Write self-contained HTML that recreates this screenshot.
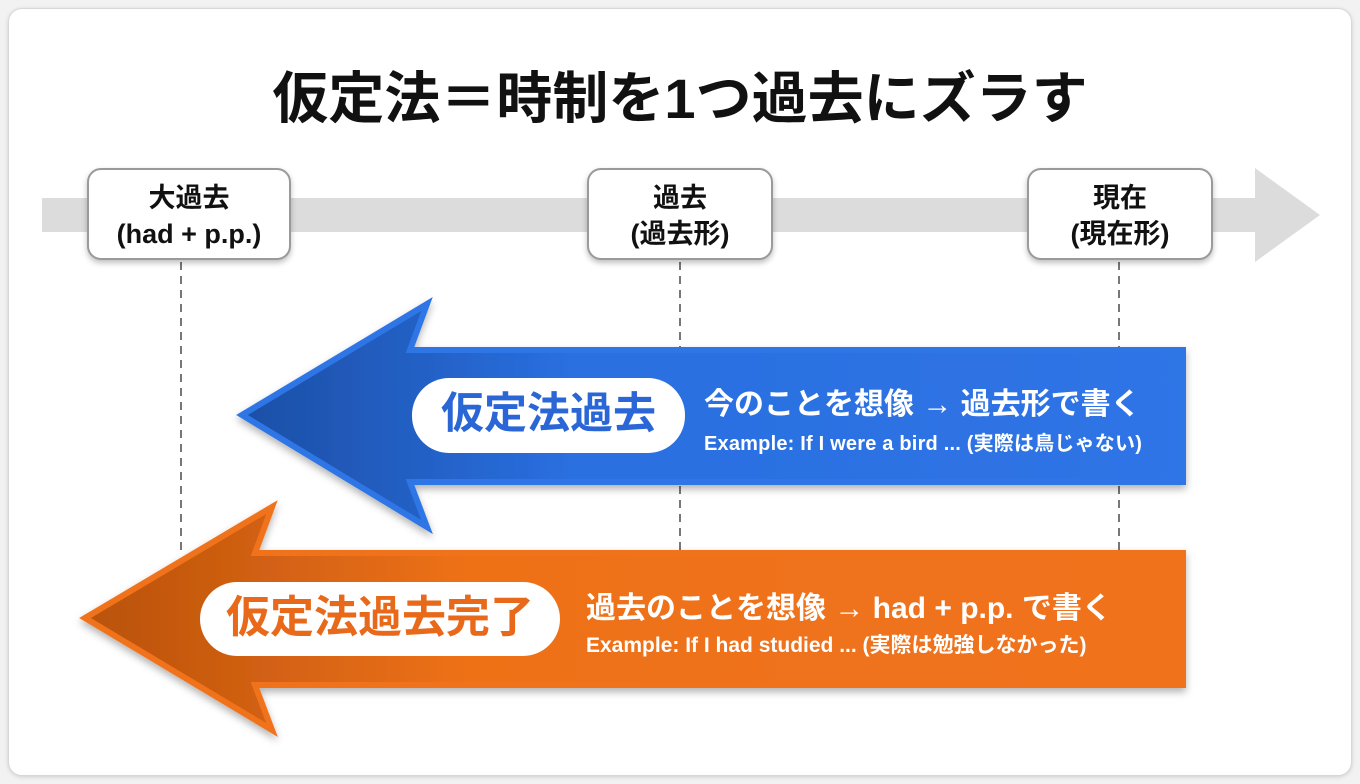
<!DOCTYPE html>
<html><head><meta charset="utf-8"><style>
body{margin:0;width:1360px;height:784px;background:#f2f2f2;font-family:"Liberation Sans","Noto Sans CJK JP",sans-serif;overflow:hidden}
.card{position:absolute;left:8px;top:8px;width:1342px;height:766px;background:#fff;border:1px solid #d8d8d8;border-radius:14px;box-shadow:0 1px 4px rgba(0,0,0,.15)}
.t{position:absolute;white-space:nowrap}
.box{position:absolute;top:168px;height:92px;background:#fff;border:2px solid #9a9a9a;border-radius:14px;box-shadow:0 3px 6px rgba(0,0,0,.25);text-align:center;font-weight:bold;font-size:27px;line-height:36px;padding-top:10px;box-sizing:border-box;color:#111}
</style></head><body>
<div class="card"></div>
<svg width="1360" height="784" style="position:absolute;left:0;top:0">
<defs>
<linearGradient id="bg" x1="0" x2="1"><stop offset="0" stop-color="#1c4fa6"/><stop offset=".35" stop-color="#2a6fe0"/><stop offset="1" stop-color="#2f74e6"/></linearGradient>
<linearGradient id="og" x1="0" x2="1"><stop offset="0" stop-color="#b9520c"/><stop offset=".35" stop-color="#ee7119"/><stop offset="1" stop-color="#f0731b"/></linearGradient>
<filter id="sh"><feDropShadow dx="0" dy="4" stdDeviation="4" flood-opacity=".3"/></filter>
</defs>
<rect x="42" y="198" width="1215" height="34" fill="#dcdcdc"/>
<polygon points="1255,168 1320,215 1255,262" fill="#dcdcdc"/>
<g stroke="#777" stroke-width="2" stroke-dasharray="8,6">
<line x1="181" y1="262" x2="181" y2="555"/><line x1="680" y1="262" x2="680" y2="555"/><line x1="1119" y1="262" x2="1119" y2="555"/>
</g>
<polygon filter="url(#sh)" points="242,415 427,304 410,350 1183,350 1183,482 410,482 427,527" fill="url(#bg)" stroke="#2f74e6" stroke-width="6" stroke-linejoin="miter"/>
<polygon filter="url(#sh)" points="85,618 272,507 255,553 1183,553 1183,685 255,685 272,730" fill="url(#og)" stroke="#f0731b" stroke-width="6"/>
<rect x="412" y="378" width="273" height="75" rx="37" fill="#fff"/>
<rect x="200" y="582" width="360" height="74" rx="37" fill="#fff"/>
</svg>
<div class="t" style="left:0;width:1360px;text-align:center;top:54px;font-size:56px;font-weight:bold;color:#111">仮定法＝時制を1つ過去にズラす</div>
<div class="box" style="left:87px;width:204px">大過去<br>(had + p.p.)</div>
<div class="box" style="left:587px;width:186px">過去<br>(過去形)</div>
<div class="box" style="left:1027px;width:186px">現在<br>(現在形)</div>
<div class="t" style="left:412px;width:273px;text-align:center;top:389px;font-size:43px;font-weight:bold;color:#2a66d6;line-height:50px">仮定法過去</div>
<div class="t" style="left:200px;width:360px;text-align:center;top:593px;font-size:44px;font-weight:bold;color:#e8691a;line-height:50px">仮定法過去完了</div>
<div class="t" style="left:704px;top:379px;font-size:30px;font-weight:bold;color:#fff">今のことを想像 → 過去形で書く</div>
<div class="t" style="left:704px;top:427px;font-size:20px;font-weight:bold;color:#fff;letter-spacing:0.2px">Example: If I were a bird ... (実際は鳥じゃない)</div>
<div class="t" style="left:586px;top:583px;font-size:30px;font-weight:bold;color:#fff">過去のことを想像 → had + p.p. で書く</div>
<div class="t" style="left:586px;top:629px;font-size:21px;font-weight:bold;color:#fff">Example: If I had studied ... (実際は勉強しなかった)</div>
</body></html>
